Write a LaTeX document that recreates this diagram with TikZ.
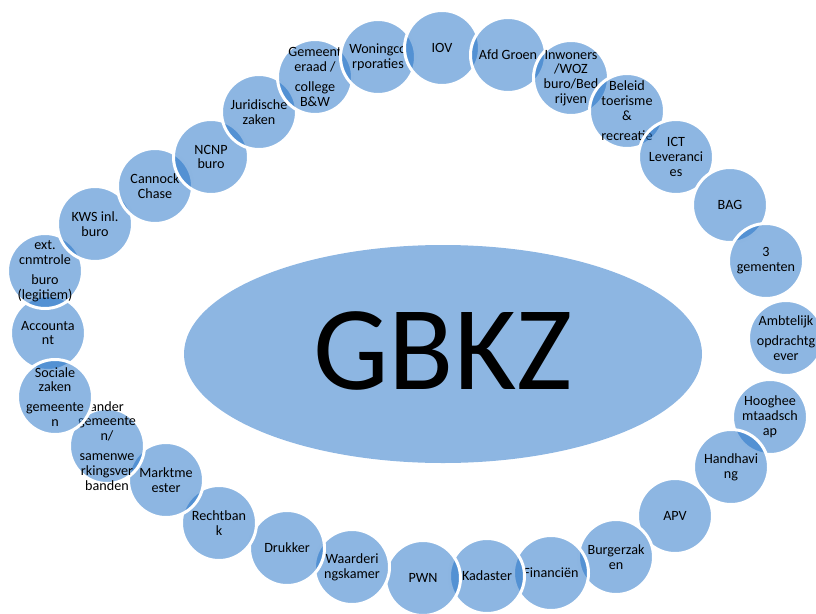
\documentclass[tikz,border=0pt]{standalone}
\usepackage{fontspec}
\setmainfont{Carlito}
\usetikzlibrary{shapes.geometric}
\definecolor{bubc}{RGB}{27,109,197}
\definecolor{corec}{RGB}{141,182,226}
\tikzset{
  bubble/.style={circle, minimum size=56.25pt, inner sep=0pt, fill=bubc, fill opacity=0.5,
    draw=white, draw opacity=1, line width=2.25pt},
  lbl/.style={font=\fontsize{10.6pt}{11.1pt}\selectfont, align=center, inner sep=0pt, text=black},
  core/.style={ellipse, fill=corec, minimum width=388.5pt, minimum height=163.5pt, inner sep=0pt},
  coretext/.style={font=\fontsize{90pt}{90pt}\selectfont, inner sep=0pt, text=black, anchor=base}
}
\begin{document}
\begin{tikzpicture}[x=0.75pt,y=-0.75pt]
\useasboundingbox (0,0) rectangle (816,613);
\node[core] (gbkz) at (443,354) {};
\node[coretext] (gbkzt) at (443,389) {GBKZ};
% circles, drawn in order
\node[bubble] (c1) at (48,333) {};
\node[lbl] (t1) at (c1) {Accounta\\nt};
\node[bubble] (c2) at (45,271) {};
\node[lbl] (t2) at (c2) {ext.\\cnmtrole\\[4pt]buro\\(legitiem)};
\node[bubble] (c3) at (95,224) {};
\node[lbl] (t3) at (c3) {KWS inl.\\buro};
\node[bubble] (c4) at (155,186) {};
\node[lbl] (t4) at (c4) {Cannock\\Chase};
\node[bubble] (c5) at (211,157) {};
\node[lbl] (t5) at (c5) {NCNP\\buro};
\node[bubble] (c6) at (259,112) {};
\node[lbl] (t6) at (c6) {Juridische\\zaken};
\node[bubble] (c7) at (315,77) {};
\node[lbl] (t7) at (c7) {Gemeent\\eraad /\\[4pt]college\\B\&W};
\node[bubble] (c8) at (378,57) {};
\node[lbl] (t8) at (c8) {Woningco\\rporaties};
\node[bubble] (c9) at (442,48) {};
\node[lbl] (t9) at (c9) {IOV};
\node[bubble] (c10) at (508,55) {};
\node[lbl] (t10) at (c10) {Afd Groen};
\node[bubble] (c11) at (571,78) {};
\node[lbl] (t11) at (c11) {Inwoners\\/WOZ\\buro/Bed\\rijven};
\node[bubble] (c12) at (627,111) {};
\node[lbl] (t12) at (c12) {Beleid\\toerisme\\\&\\[4pt]recreatie};
\node[bubble] (c13) at (676,157) {};
\node[lbl] (t13) at (c13) {ICT\\Leveranci\\es};
\node[bubble] (c14) at (730,205) {};
\node[lbl] (t14) at (c14) {BAG};
\node[bubble] (c15) at (766,261) {};
\node[lbl] (t15) at (c15) {3\\gementen};
\node[bubble] (c16) at (786,338) {};
\node[lbl] (t16) at (c16) {Ambtelijk\\[4pt]opdrachtg\\ever};
\node[bubble] (c17) at (770,417) {};
\node[lbl] (t17) at (c17) {Hooghee\\mtaadsch\\ap};
\node[bubble] (c18) at (731,467) {};
\node[lbl] (t18) at (c18) {Handhavi\\ng};
\node[bubble] (c19) at (675,516) {};
\node[lbl] (t19) at (c19) {APV};
\node[bubble] (c20) at (616,557) {};
\node[lbl] (t20) at (c20) {Burgerzak\\en};
\node[bubble] (c21) at (551,573) {};
\node[lbl] (t21) at (c21) {Financiën};
\node[bubble] (c22) at (487,576) {};
\node[lbl] (t22) at (c22) {Kadaster};
\node[bubble] (c23) at (423,578) {};
\node[lbl] (t23) at (c23) {PWN};
\node[bubble] (c24) at (352,567) {};
\node[lbl] (t24) at (c24) {Waarderi\\ngskamer};
\node[bubble] (c25) at (287,548) {};
\node[lbl] (t25) at (c25) {Drukker};
\node[bubble] (c26) at (219,523) {};
\node[lbl] (t26) at (c26) {Rechtban\\k};
\node[bubble] (c27) at (166,480) {};
\node[lbl] (t27) at (c27) {Marktme\\ester};
\node[bubble] (c28) at (107,446) {};
\node[lbl] (t28) at (c28) {ander\\gemeente\\n/\\[4pt]samenwe\\rkingsver\\banden};
\node[bubble] (c29) at (55,397) {};
\node[lbl] (t29) at (c29) {Sociale\\zaken\\[4pt]gemeente\\n};
\end{tikzpicture}
\end{document}
